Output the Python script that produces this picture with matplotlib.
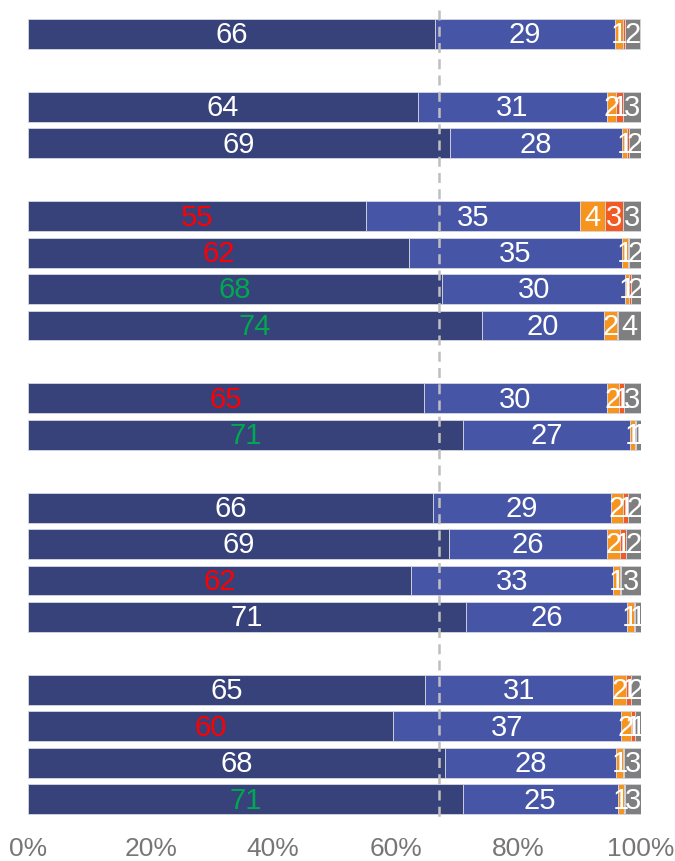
import matplotlib.pyplot as plt

plt.rcParams['font.family'] = ['Liberation Sans', 'DejaVu Sans']

# posicion de cada barra (las filas vacias separan los grupos)
filas = [0, 2, 3, 5, 6, 7, 8, 10, 11, 13, 14, 15, 16, 18, 19, 20, 21]

# porcentajes por segmento
muy_bien = [66.4, 63.6, 68.9, 55.1, 62.1, 67.6, 74.1, 64.6, 71.0, 66.1, 68.6, 62.4, 71.4, 64.8, 59.6, 68.0, 70.9]
bien = [29.4, 30.8, 28.0, 34.9, 34.8, 29.8, 19.8, 29.8, 27.2, 29.0, 25.8, 33.1, 26.3, 30.7, 37.1, 28.0, 25.3]
regular = [1.2, 1.6, 0.8, 4.1, 0.9, 0.7, 2.2, 2.0, 0.8, 2.0, 2.2, 1.0, 1.1, 2.1, 1.6, 1.0, 1.0]
mal = [0.4, 1.0, 0.3, 2.9, 0.3, 0.3, 0.2, 0.8, 0.2, 0.8, 0.9, 0.2, 0.2, 0.7, 0.8, 0.3, 0.2]
nsnc = [2.4, 3.0, 2.0, 3.0, 1.9, 1.6, 3.7, 2.8, 0.8, 2.1, 2.5, 3.3, 1.0, 1.7, 0.9, 2.7, 2.6]

# color del numero del primer segmento
color_etiqueta = ['white', 'white', 'white', 'red', 'red', 'green', 'green', 'red', 'green',
                  'white', 'white', 'red', 'white', 'white', 'red', 'white', 'green']

promedio = 67

colores = ['#37417A', '#4655A5', '#F7941D', '#F15A22', '#7F7F7F']
colores_texto = {'white': 'white', 'red': '#FF0000', 'green': '#00A84F'}

fig = plt.figure(figsize=(6.75, 8.61), dpi=100)
ax = fig.add_axes([28 / 675, 1 - 818 / 861, (641 - 28) / 675, 818 / 861])

series = [muy_bien, bien, regular, mal, nsnc]
izquierda = [0] * len(filas)
for s, valores in enumerate(series):
    ax.barh(filas, valores, left=izquierda, height=0.82, color=colores[s],
            edgecolor='#d4d6e0', linewidth=0.6, zorder=2)
    for i, v in enumerate(valores):
        n = round(v)
        if n >= 1:
            c = colores_texto[color_etiqueta[i]] if s == 0 else 'white'
            ax.text(izquierda[i] + v / 2, filas[i] + 0.04, str(n), ha='center', va='center',
                    fontsize=21, color=c, zorder=4)
    izquierda = [a + b for a, b in zip(izquierda, valores)]

ax.plot([promedio, promedio], [-0.65, 21.5], color='#bfbfbf', linestyle='--',
        linewidth=1.8, dashes=(4, 2.5), zorder=3)

ax.set_xlim(0, 100)
ax.set_ylim(21.52, -0.933)
ax.set_xticks([0, 20, 40, 60, 80, 100])
ax.set_xticklabels(['0%', '20%', '40%', '60%', '80%', '100%'])
ax.set_yticks([])
ax.tick_params(axis='x', length=0, labelsize=19, labelcolor='#767676', pad=14)
for lado in ax.spines.values():
    lado.set_visible(False)

fig.savefig('out.png', dpi=100)
